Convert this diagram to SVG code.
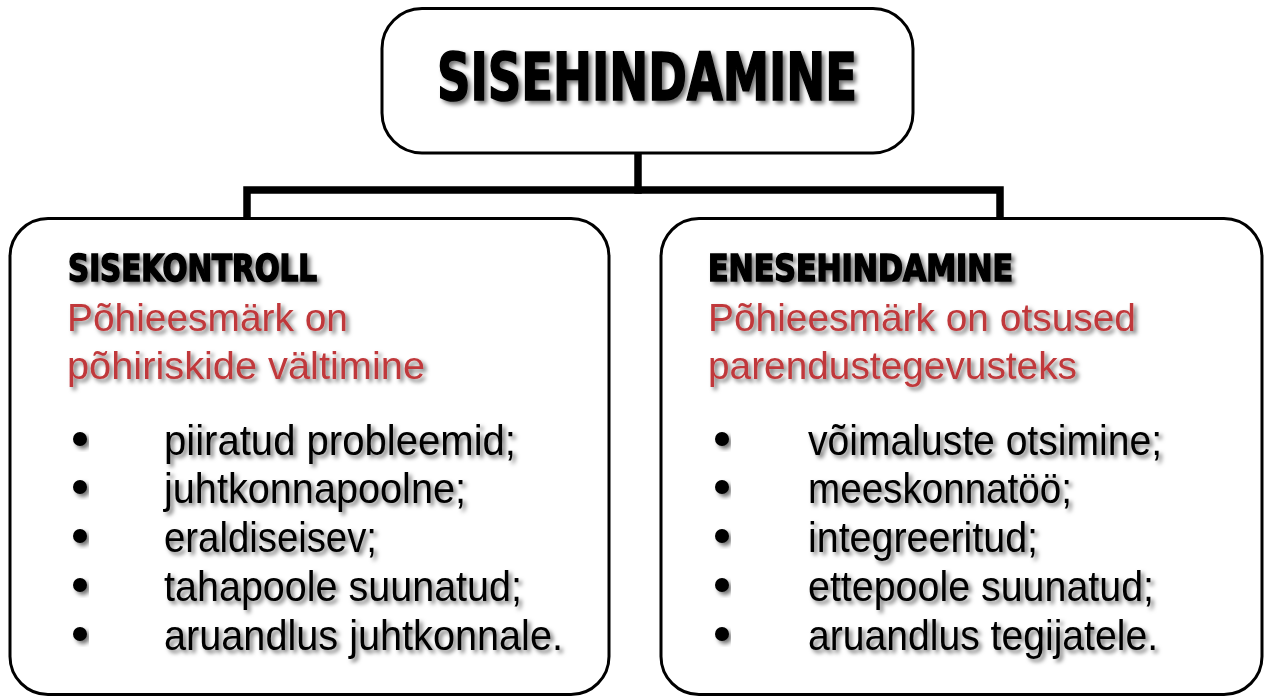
<svg xmlns="http://www.w3.org/2000/svg" width="1264" height="697" viewBox="0 0 1264 697">
  <style>
    .box { fill: #ffffff; stroke: #000000; stroke-width: 3; }
    .conn { fill: none; stroke: #000000; stroke-width: 7.5; stroke-linejoin: miter; stroke-linecap: square; }
    .head { font-family: "Liberation Sans Narrow", "DejaVu Sans Condensed", "Liberation Sans", sans-serif; font-weight: bold; fill: #000000; stroke: #000000; stroke-width: 1.6; filter: url(#sh); }
    .red { font-family: "Liberation Sans Narrow", "Liberation Sans", sans-serif; font-size: 39px; fill: #c0393b; filter: url(#sh); }
    .item { font-family: "Liberation Sans Narrow", "Liberation Sans", sans-serif; font-size: 42px; fill: #000000; filter: url(#sh); }
    .dot { fill: #000000; filter: url(#sh); }
  </style>
  <defs>
    <filter id="sh" x="-10%" y="-30%" width="120%" height="170%">
      <feDropShadow dx="3" dy="3" stdDeviation="2" flood-color="#000000" flood-opacity="0.55"/>
    </filter>
  </defs>
  <rect width="1264" height="697" fill="#ffffff"/>

  <g id="connectors">
    <path class="conn" d="M638 153 V190"/>
    <path class="conn" d="M247 218 V190 H1000 V218"/>
  </g>

  <g id="node-top">
    <rect class="box" x="382" y="8.5" width="531" height="144.5" rx="40" ry="40"/>
    <text class="head" x="437" y="100" font-size="66" textLength="420" lengthAdjust="spacingAndGlyphs">SISEHINDAMINE</text>
  </g>

  <g id="node-left">
    <rect class="box" x="10" y="218.5" width="599" height="476" rx="38" ry="38"/>
    <text class="head" x="68" y="281" font-size="37" stroke-width="1" textLength="249" lengthAdjust="spacingAndGlyphs">SISEKONTROLL</text>
    <text class="red" x="67" y="331" textLength="281" lengthAdjust="spacingAndGlyphs">Põhieesmärk on</text>
    <text class="red" x="67" y="379" textLength="358" lengthAdjust="spacingAndGlyphs">põhiriskide vältimine</text>
    <circle class="dot" cx="80" cy="439" r="7"/>
    <circle class="dot" cx="80" cy="487" r="7"/>
    <circle class="dot" cx="80" cy="536" r="7"/>
    <circle class="dot" cx="80" cy="585" r="7"/>
    <circle class="dot" cx="80" cy="634" r="7"/>
    <text class="item" x="164" y="455" textLength="352" lengthAdjust="spacingAndGlyphs">piiratud probleemid;</text>
    <text class="item" x="164" y="503" textLength="302" lengthAdjust="spacingAndGlyphs">juhtkonnapoolne;</text>
    <text class="item" x="164" y="552" textLength="213" lengthAdjust="spacingAndGlyphs">eraldiseisev;</text>
    <text class="item" x="164" y="601" textLength="358" lengthAdjust="spacingAndGlyphs">tahapoole suunatud;</text>
    <text class="item" x="164" y="650" textLength="399" lengthAdjust="spacingAndGlyphs">aruandlus juhtkonnale.</text>
  </g>

  <g id="node-right">
    <rect class="box" x="661" y="218.5" width="601" height="476" rx="38" ry="38"/>
    <text class="head" x="708" y="281" font-size="37" stroke-width="1" textLength="305" lengthAdjust="spacingAndGlyphs">ENESEHINDAMINE</text>
    <text class="red" x="708" y="331" textLength="428" lengthAdjust="spacingAndGlyphs">Põhieesmärk on otsused</text>
    <text class="red" x="708" y="379" textLength="369" lengthAdjust="spacingAndGlyphs">parendustegevusteks</text>
    <circle class="dot" cx="722" cy="439" r="7"/>
    <circle class="dot" cx="722" cy="487" r="7"/>
    <circle class="dot" cx="722" cy="536" r="7"/>
    <circle class="dot" cx="722" cy="585" r="7"/>
    <circle class="dot" cx="722" cy="634" r="7"/>
    <text class="item" x="808" y="455" textLength="354" lengthAdjust="spacingAndGlyphs">võimaluste otsimine;</text>
    <text class="item" x="808" y="503" textLength="264" lengthAdjust="spacingAndGlyphs">meeskonnatöö;</text>
    <text class="item" x="808" y="552" textLength="230" lengthAdjust="spacingAndGlyphs">integreeritud;</text>
    <text class="item" x="808" y="601" textLength="346" lengthAdjust="spacingAndGlyphs">ettepoole suunatud;</text>
    <text class="item" x="808" y="650" textLength="350" lengthAdjust="spacingAndGlyphs">aruandlus tegijatele.</text>
  </g>
</svg>
